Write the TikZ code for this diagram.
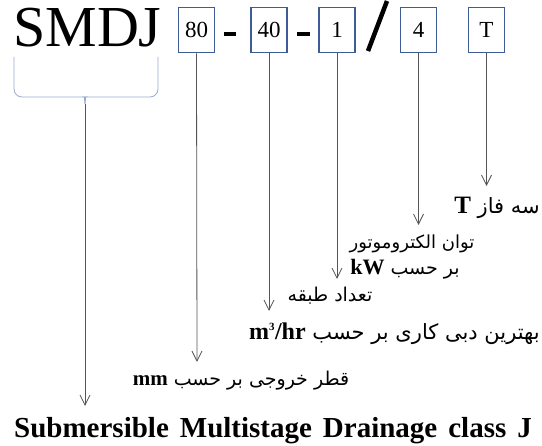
\documentclass[tikz,border=0pt]{standalone}
\usepackage{fontspec}
\setmainfont{Liberation Serif}
\newfontfamily\serifa{Liberation Serif}
\newfontfamily\fa[Script=Arabic]{DejaVu Sans}
\TeXXeTstate=1
\usetikzlibrary{arrows.meta}
\definecolor{boxblue}{RGB}{62,92,150}
\definecolor{bracecol}{RGB}{150,172,205}
\definecolor{linegray}{RGB}{85,85,85}
\begin{document}
\begin{tikzpicture}[x=1pt,y=1pt,
  codebox/.style={draw=boxblue,line width=1.8pt,fill=white,minimum width=36pt,minimum height=45pt,inner sep=0pt,font=\serifa\fontsize{23}{23}\selectfont},
  sepline/.style={line width=3.5pt,black},
  arr/.style={draw=linegray,line width=0.8pt,-{Straight Barb[length=10pt,width=10pt,line width=0.8pt]}},
  falabel/.style={inner sep=0pt,anchor=base,font=\fa\fontsize{18}{18}\selectfont}
]
\useasboundingbox (0,0) rectangle (542,-446);
% code
\node[inner sep=0pt,anchor=base west,font=\serifa\fontsize{58}{58}\selectfont] (smdj) at (13,-47) {SMDJ};
\node[codebox] (b80) at (196.5,-30) {80};
\coordinate (d1a) at (224,-34);
\coordinate (d1b) at (236,-34);
\draw[sepline] (d1a) -- (d1b);
\node[codebox] (b40) at (269,-30) {40};
\coordinate (d2a) at (297,-34);
\coordinate (d2b) at (310,-34);
\draw[sepline] (d2a) -- (d2b);
\node[codebox] (b1) at (337,-30) {1};
\coordinate (s1) at (368,-51);
\coordinate (s2) at (387,-1);
\draw[line width=4.5pt,black] (s1) -- (s2);
\node[codebox] (b4) at (418.5,-30) {4};
\node[codebox] (bT) at (486.5,-30) {T};
% brace
\coordinate (brtip) at (85,-104);
\draw[bracecol,line width=0.8pt,rounded corners=8pt] (14,-57) -- (14,-97) -- (78,-97) .. controls (83,-97) and (85,-100) .. (brtip);
\draw[bracecol,line width=0.8pt,rounded corners=8pt] (158,-57) -- (158,-97) -- (92,-97) .. controls (87,-97) and (85,-100) .. (brtip);
% arrow tips
\coordinate (tT) at (486.5,-186);
\coordinate (t4) at (418.5,-225);
\coordinate (t1) at (337,-279);
\coordinate (t40) at (269,-311);
\coordinate (t80) at (197,-362);
\coordinate (tbr) at (85,-406);
\draw[arr] (bT.south) -- (tT);
\draw[arr] (b4.south) -- (t4);
\draw[arr] (b1.south) -- (t1);
\draw[arr] (b40.south) -- (t40);
\draw[arr] (b80.south) -- (t80);
\draw[arr] (brtip) -- (tbr);
% labels
\node[falabel,anchor=base east,font=\fa\fontsize{21}{21}\selectfont] (lT) at (540,-214) {\beginR سه فاز {\serifa\bfseries\fontsize{25}{25}\selectfont T}\endR};
\node[falabel] (l4a) at (412,-249) {\beginR توان الکتروموتور\endR};
\node[falabel,font=\fa\fontsize{19}{19}\selectfont] (l4b) at (405,-275) {\beginR بر حسب {\serifa\bfseries\fontsize{22}{22}\selectfont\beginL kW\endL}\endR};
\node[falabel,font=\fa\fontsize{19}{19}\selectfont] (l1) at (330,-302) {\beginR تعداد طبقه\endR};
\node[falabel,anchor=base east,font=\fa\fontsize{21}{21}\selectfont] (l40) at (540,-340) {\beginR بهترین دبی کاری بر حسب {\serifa\bfseries\fontsize{24}{24}\selectfont\beginL m\textsuperscript{\fontsize{11}{11}\selectfont 3}/hr\endL}\endR};
\node[falabel,font=\fa\fontsize{19}{19}\selectfont] (l80) at (241,-386) {\beginR قطر خروجی بر حسب {\serifa\bfseries\fontsize{21}{21}\selectfont\beginL mm\endL}\endR};
\node[inner sep=0pt,anchor=base west,font=\serifa\bfseries\fontsize{29}{29}\selectfont,execute at begin node={\spaceskip=11pt plus 2pt}] (full) at (14,-438) {Submersible Multistage Drainage class J};
\end{tikzpicture}
\end{document}
